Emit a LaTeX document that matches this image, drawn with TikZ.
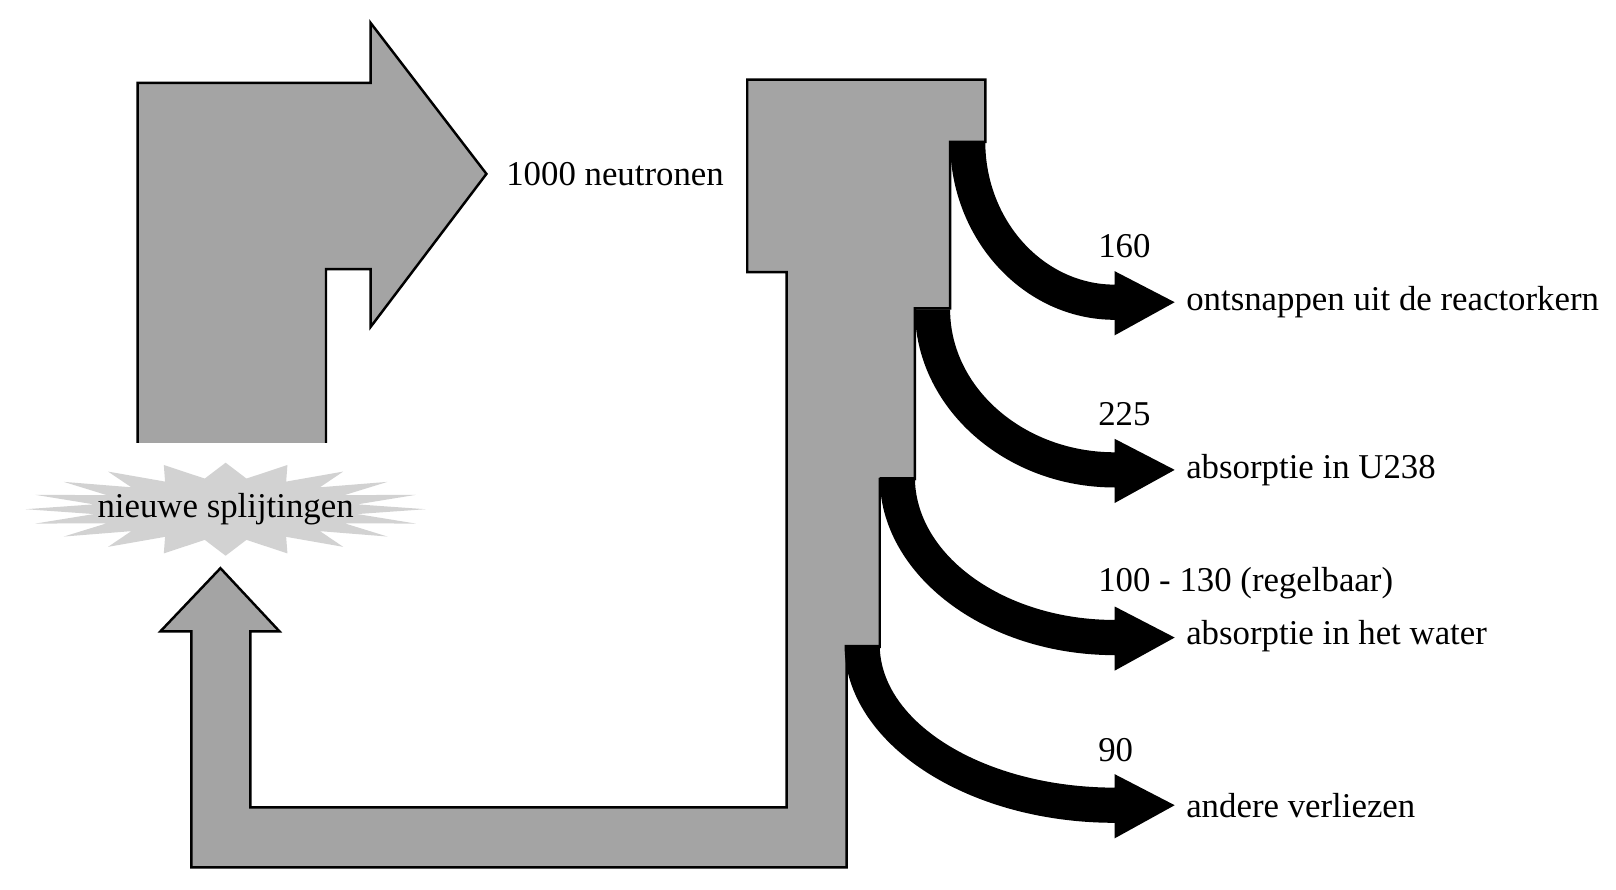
\documentclass[tikz,border=0pt]{standalone}
\usepackage{fontspec}
\setmainfont{Liberation Serif}
\usetikzlibrary{shapes.geometric}
\definecolor{flowgray}{HTML}{A4A4A4}
\begin{document}
\begin{tikzpicture}[x=0.01035cm, y=-0.01035cm, line width=0.7pt, line join=miter,
    font=\fontsize{9.9}{11.5}\selectfont]

  % Styles
  \tikzset{
    flow/.style={draw, fill=flowgray},
    loss/.style={fill=black},
    lbl/.style={anchor=west, inner sep=0pt}
  }
  \useasboundingbox (0,0) rectangle (1561.4,859.9);

  % Incoming arrow (open at the bottom)
  \fill[flowgray] (133,428) -- (133,80) -- (358,80) -- (358,22) -- (470,168)
    -- (358,316) -- (358,260) -- (315,260) -- (315,428) -- cycle;
  \draw (133,428) -- (133,80) -- (358,80) -- (358,22) -- (470,168)
    -- (358,316) -- (358,260) -- (315,260) -- (315,428);
  \node[lbl] (total) at (488,168) {1000 neutronen};

  % Reactor core band and return arrow
  \draw[flow] (722,77) -- (952,77) -- (952,137) -- (918,137) -- (918,298)
    -- (884,298) -- (884,463) -- (850,463) -- (850,625) -- (818,625)
    -- (818,838) -- (185,838) -- (185,610) -- (155,610) -- (213,549)
    -- (270,610) -- (242,610) -- (242,780) -- (760,780) -- (760,263)
    -- (722,263) -- cycle;

  % Burst
  \node[star, star points=20, star point ratio=1.5, fill=gray!35,
    minimum size=0.93cm, inner sep=0pt, xscale=4.3, transform shape] (burst) at (218,492) {};
  \node (fission) at (burst.center) {nieuwe splijtingen};

  % Losses
  \foreach \i in {0,...,3} {
    \pgfmathsetmacro{\xo}{952-34*\i}
    \pgfmathsetmacro{\xi}{\xo-34}
    \pgfmathsetmacro{\ys}{137+162*\i}
    \pgfmathsetmacro{\ya}{292+162*\i}
    \fill[loss] (\xo,\ys) .. controls (\xo,{\ys+0.55*(\ya-17-\ys)}) and ({1077-0.55*(1077-\xo)},\ya-17) .. (1077,\ya-17)
      -- (1077,\ya-30) -- (1135,\ya) -- (1077,\ya+32) -- (1077,\ya+17)
      .. controls ({1077-0.55*(1077-\xi)},\ya+17) and (\xi,{\ys+0.55*(\ya+17-\ys)}) .. (\xi,\ys) -- cycle;
  }

  % Labels
  \node[lbl] (n1) at (1060,238) {160};
  \node[lbl] (l1) at (1145,292) {ontsnappen uit de reactorkern};
  \node[lbl] (n2) at (1060,400) {225};
  \node[lbl] (l2) at (1145,454) {absorptie in U238};
  \node[lbl] (n3) at (1060,563) {100 - 130 (regelbaar)};
  \node[lbl] (l3) at (1145,615) {absorptie in het water};
  \node[lbl] (n4) at (1060,725) {90};
  \node[lbl] (l4) at (1145,778) {andere verliezen};

\end{tikzpicture}
\end{document}
